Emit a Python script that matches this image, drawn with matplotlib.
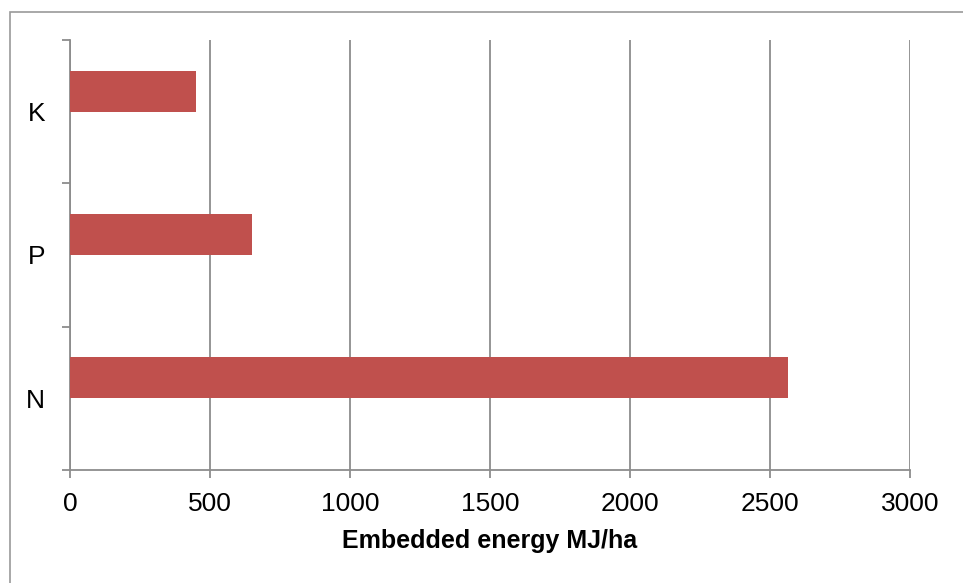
import matplotlib.pyplot as plt
from matplotlib.patches import Rectangle

plt.rcParams['font.family'] = ['Liberation Sans', 'DejaVu Sans']

# data
nutrients = ['N', 'P', 'K']
energy = [2563, 650, 451]
x_ticks = [0, 500, 1000, 1500, 2000, 2500, 3000]

bar_color = '#C0504D'
grid_color = '#8C8C8C'

fig = plt.figure(figsize=(9.63, 5.83), dpi=100)
ax = fig.add_axes([70/963, 1-470/583, 840/963, 430/583])

pos = list(range(len(nutrients)))
# excel style: bars sit a bit above the category centre
ax.barh([p + 0.143 for p in pos], energy, height=0.286, color=bar_color, zorder=3)

ax.set_xlim(0, 3000)
ax.set_ylim(-0.5, len(nutrients) - 0.5)
ax.set_xticks(x_ticks)
ax.set_xticklabels([str(t) for t in x_ticks], fontsize=19)
ax.set_yticks(pos)
ax.set_yticklabels(nutrients, fontsize=19)
ax.set_yticks([p - 0.5 for p in range(len(nutrients) + 1)], minor=True)

ax.tick_params(axis='y', which='major', length=0, pad=18)
ax.tick_params(axis='y', which='minor', length=6, width=1.3, color=grid_color, direction='out')
ax.tick_params(axis='x', length=6, width=1.3, color=grid_color, direction='out', pad=10)

ax.grid(axis='x', color=grid_color, linewidth=1.3, zorder=0)
for s in ['top', 'right']:
    ax.spines[s].set_visible(False)
for s in ['left', 'bottom']:
    ax.spines[s].set_color(grid_color)
    ax.spines[s].set_linewidth(1.3)

ax.set_xlabel('Embedded energy MJ/ha', fontsize=18, fontweight='bold', labelpad=9)

# chart area border
fig.patches.append(Rectangle((10/963, -0.1), 1.2, 1.1 - 12/583, transform=fig.transFigure,
                             fill=False, edgecolor='#9A9A9A', linewidth=1.2))

fig.savefig('out.png', dpi=100)
